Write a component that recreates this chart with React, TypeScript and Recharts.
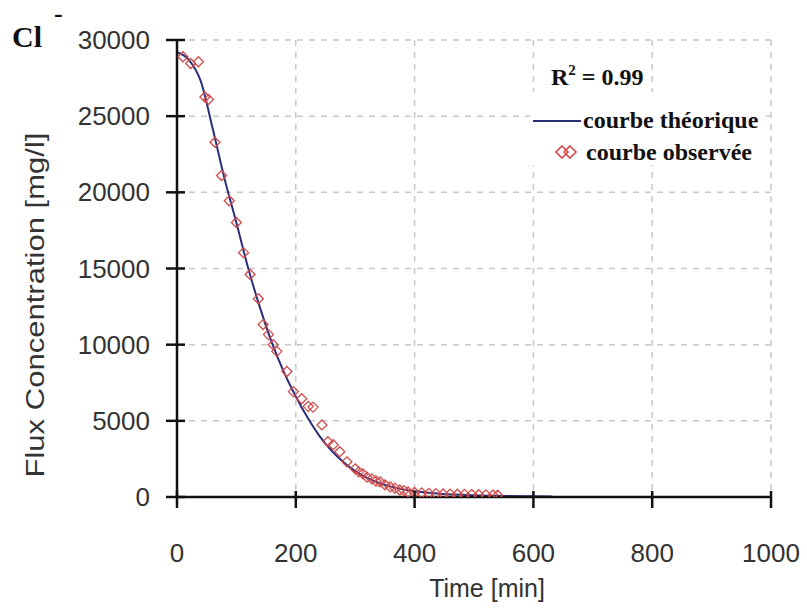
import {
  ComposedChart, Line, Scatter, XAxis, YAxis, CartesianGrid, Customized
} from "recharts";

// theoretical curve (min, mg/l)
const theoTimes = [0, 20, 40, 60, 80, 100, 120, 140, 160, 180, 200, 220, 240, 260, 280, 300, 320, 340, 360, 380, 400, 440, 480, 520, 560, 600, 632];
const theoValues = [29200, 28700, 27300, 24200, 20900, 18000, 15000, 12400, 10100, 8200, 6600, 5200, 4000, 3050, 2300, 1700, 1250, 920, 680, 500, 370, 220, 140, 90, 60, 45, 35];

// observed points
const obsTimes = [10, 23, 36, 47, 53, 64, 75, 88, 100, 112, 123, 137, 145, 154, 162, 168, 185, 196, 210, 221, 229, 244, 254, 263, 274, 286, 300, 306, 313, 320, 328, 335, 342, 350, 359, 367, 375, 382, 389, 400, 412, 424, 436, 448, 460, 472, 484, 496, 508, 520, 532, 540];
const obsValues = [28900, 28460, 28570, 26260, 26090, 23290, 21100, 19450, 18020, 16040, 14610, 13010, 11320, 10660, 10000, 9560, 8240, 6920, 6450, 5950, 5900, 4730, 3630, 3430, 2970, 2310, 1850, 1650, 1520, 1300, 1190, 1050, 990, 800, 660, 580, 460, 420, 330, 300, 270, 240, 220, 200, 190, 180, 170, 160, 150, 140, 130, 120];

const xTicks = [0, 200, 400, 600, 800, 1000];
const yTicks = [0, 5000, 10000, 15000, 20000, 25000, 30000];

const theoData = theoTimes.map((t, i) => ({ t, v: theoValues[i] }));
const obsData = obsTimes.map((t, i) => ({ t, v: obsValues[i] }));

const sans = "'Liberation Sans', Arial, sans-serif";
const serif = "'Liberation Serif', 'Times New Roman', serif";
const CURVE = "#2b2f7a";
const RED = "#d24a4a";
const AXIS = "#111";

// tick text sits 16px beyond the 11px outer tick; inner part of the tick is drawn here
const YTick = (props: any) => {
  const { x, y, payload } = props;
  return (
    <g>
      <line x1={x + 27} y1={y} x2={x + 35} y2={y} stroke={AXIS} strokeWidth={2.5} />
      <text x={x} y={y + 9} textAnchor="end" fontSize={26} fill="#333" fontFamily={sans}>{payload.value}</text>
    </g>
  );
};

const XTick = (props: any) => {
  const { x, y, payload } = props;
  return (
    <g>
      <line x1={x} y1={y - 25} x2={x} y2={y - 19} stroke={AXIS} strokeWidth={2.5} />
      <text x={x} y={y + 46} textAnchor="middle" fontSize={26} fill="#333" fontFamily={sans}>{payload.value}</text>
    </g>
  );
};

const Diamond = (props: any) => {
  const { cx, cy } = props;
  const r = 5;
  return (
    <path d={`M${cx},${cy - r}L${cx + r},${cy}L${cx},${cy + r}L${cx - r},${cy}Z`} fill="none" stroke={RED} strokeWidth={1.3} />
  );
};

const Decorations = () => (
  <g>
    <text x={12} y={47} fontSize={30} fontWeight="bold" fontFamily={serif} fill="#111">Cl</text>
    <text x={54} y={22} fontSize={26} fontWeight="bold" fontFamily={serif} fill="#111">-</text>
    <text x={35} y={305} transform="rotate(-90 35 305)" textAnchor="middle" dominantBaseline="central"
      fontSize={26} textLength={345} lengthAdjust="spacingAndGlyphs" fill="#333" fontFamily={sans}>Flux Concentration [mg/l]</text>
    <text x={487} y={597} textAnchor="middle" fontSize={25} fill="#333" fontFamily={sans}>Time [min]</text>
    <rect x={530} y={92} width={236} height={73} fill="#fff" />
    <text x={551} y={85} fontSize={24} fontWeight="bold" fontFamily={serif} fill="#111">
      R<tspan dy={-10} fontSize={15}>2</tspan><tspan dy={10}> = 0.99</tspan>
    </text>
    <line x1={533} x2={581} y1={121} y2={121} stroke={CURVE} strokeWidth={2} />
    <text x={583} y={128} fontSize={24} fontWeight="bold" fontFamily={serif} fill="#111">courbe théorique</text>
    <path d="M562,146L568,152L562,158L556,152Z" fill="none" stroke={RED} strokeWidth={1.6} />
    <path d="M570,146L576,152L570,158L564,152Z" fill="none" stroke={RED} strokeWidth={1.6} />
    <text x={586} y={160} fontSize={24} fontWeight="bold" fontFamily={serif} fill="#111">courbe observée</text>
  </g>
);

export default function App() {
  return (
    <div style={{ position: "absolute", left: 0, top: 0, width: 807, height: 610, background: "#fff" }}>
      <ComposedChart width={807} height={610} margin={{ top: 40, right: 36, bottom: 0, left: 0 }}>
        <CartesianGrid strokeDasharray="6 6" stroke="#c8c8c8" strokeWidth={1.5}
          horizontalValues={yTicks} verticalValues={xTicks} />
        <XAxis type="number" dataKey="t" domain={[0, 1000]} ticks={xTicks} height={113}
          axisLine={{ stroke: AXIS, strokeWidth: 2.5 }} tickLine={{ stroke: AXIS, strokeWidth: 2.5 }}
          tickSize={11} tickMargin={8} tick={<XTick />} allowDataOverflow />
        <YAxis type="number" dataKey="v" domain={[0, 30000]} ticks={yTicks} width={177}
          axisLine={{ stroke: AXIS, strokeWidth: 2.5 }} tickLine={{ stroke: AXIS, strokeWidth: 2.5 }}
          tickSize={11} tickMargin={16} tick={<YTick />} allowDataOverflow />
        <Customized component={Decorations} />
        <Scatter data={obsData} dataKey="v" shape={<Diamond />} isAnimationActive={false} />
        <Line data={theoData} dataKey="v" type="monotone" stroke={CURVE} strokeWidth={2} dot={false} isAnimationActive={false} />
      </ComposedChart>
    </div>
  );
}
